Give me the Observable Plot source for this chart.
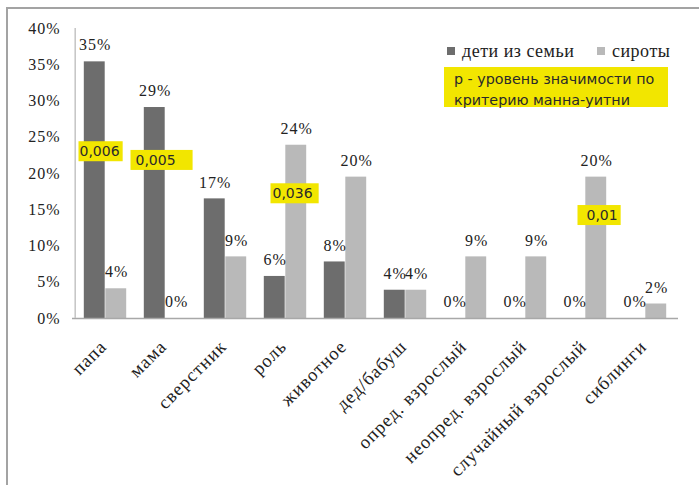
<!DOCTYPE html>
<html>
<head>
<meta charset="utf-8">
<script src="https://cdn.jsdelivr.net/npm/d3@7"></script>
<script src="https://cdn.jsdelivr.net/npm/@observablehq/plot@0.6"></script>
<style>
  body { margin: 0; background: #fff; }
  #wrap { position: relative; width: 699px; height: 485px; overflow: hidden; background: #fff; }
  #frame { position: absolute; left: 6px; top: 7px; width: 900px; height: 700px;
           border-top: 2px solid #a3a3a3; border-left: 2px solid #a3a3a3; pointer-events: none; }
  #chart text { letter-spacing: 1px; }
  .leg { position: absolute; font-family: "Liberation Serif", "Times New Roman", serif; font-size: 18px; letter-spacing: 0.5px; line-height: 20px; color: #222; white-space: nowrap; }
  .sw { position: absolute; width: 8px; height: 8px; }
  #note { position: absolute; left: 444px; top: 67px; width: 214px; height: 38px; padding-left: 10px; padding-top: 2px;
          background: #f2e600; font-family: "DejaVu Sans", sans-serif; font-size: 14.3px; letter-spacing: 0px; line-height: 21px; color: #2a2a2a; white-space: nowrap; }
</style>
</head>
<body>
<div id="wrap">
  <div id="chart"></div>
  <div id="frame"></div>
</div>
<script>
// ---- data ----
const categories = ["папа", "мама", "сверстник", "роль", "животное", "дед/бабуш",
  "опред. взрослый", "неопред. взрослый", "случайный взрослый", "сиблинги"];
const series = ["дети из семьи", "сироты"];
const familyValues = [35.4, 29.1, 16.5, 5.8, 7.8, 3.9, 0, 0, 0, 0];
const orphanValues = [4.1, 0, 8.5, 23.9, 19.5, 3.9, 8.5, 8.5, 19.5, 2.0];
const yTicks = [0, 5, 10, 15, 20, 25, 30, 35, 40];
const pCategories = ["папа", "мама", "роль", "случайный взрослый"];
const pLabels = ["0,006", "0,005", "0,036", "0,01"];
const pAnchors = [23.0, 21.8, 17.2, 14.2];
const noteLines = ["p - уровень значимости по", "критерию манна-уитни"];

// ---- layout / style ----
const colors = ["#6d6d6d", "#b9b9b9"];
const W = 699, H = 485;
const mL = 72, mR = 21, mT = 28, mB = 167;
const bw = (W - mL - mR) / categories.length;
const barW = 21.5;
const pDx = [-26, -30, -13, 1];
const pPad = [[1, 3], [5, 17], [2, 6], [9, 3]];
const serif = "'Liberation Serif', 'Times New Roman', serif";

const rows = [];
categories.forEach((c, i) => {
  rows.push({cat: c, s: series[0], v: familyValues[i]});
  rows.push({cat: c, s: series[1], v: orphanValues[i]});
});
const fam = rows.filter(d => d.s === series[0]);
const orp = rows.filter(d => d.s === series[1]);

const pMarks = pCategories.map((c, i) => Plot.text([{cat: c, y: pAnchors[i], t: pLabels[i]}], {
  x: "cat", y: "y", text: "t", dx: pDx[i], textAnchor: "start",
  fontFamily: "DejaVu Sans", fontSize: 14, fill: "#2a2a2a"
}));

const chart = Plot.plot({
  width: W, height: H,
  marginLeft: mL, marginRight: mR, marginTop: mT, marginBottom: mB,
  x: {domain: categories, padding: 0},
  y: {domain: [0, 40]},
  marks: [
    Plot.barY(fam, {x: "cat", y: "v", fill: colors[0], insetLeft: bw / 2 - barW, insetRight: bw / 2}),
    Plot.barY(orp, {x: "cat", y: "v", fill: colors[1], insetLeft: bw / 2, insetRight: bw / 2 - barW}),
    Plot.ruleY([0], {stroke: "#a8a8a8", strokeWidth: 1.5}),
    Plot.ruleX([categories[0]], {y1: 0, y2: 40, dx: -bw / 2, stroke: "#c4c4c4", strokeWidth: 1.5}),
    Plot.text(fam, {x: "cat", y: "v", text: d => Math.round(d.v) + "%", dx: -barW / 2 + 0.5, dy: -16.5,
      fontFamily: serif, fontSize: 16, fill: "#222"}),
    Plot.text(orp, {x: "cat", y: "v", text: d => Math.round(d.v) + "%", dx: barW / 2 + 0.5, dy: -16.5,
      fontFamily: serif, fontSize: 16, fill: "#222"}),
    ...pMarks,
    Plot.axisY({ticks: yTicks, tickFormat: d => d + "%", tickSize: 0, tickPadding: 12,
      fontFamily: serif, fontSize: 16, fill: "#222", label: null}),
    Plot.axisX({tickRotate: -45, tickSize: 0, tickPadding: 25, dx: -2, fontFamily: serif, fontSize: 18.5,
      fill: "#222", label: null})
  ]
});
chart.setAttribute("font-family", serif);
document.getElementById("chart").appendChild(chart);

// yellow boxes behind p-values
chart.querySelectorAll("text").forEach(t => {
  const i = pLabels.indexOf(t.textContent);
  if (i < 0) return;
  t.style.letterSpacing = "0px";
  const b = t.getBBox();
  const r = document.createElementNS("http://www.w3.org/2000/svg", "rect");
  r.setAttribute("x", b.x - pPad[i][0]);
  r.setAttribute("y", b.y - 2);
  r.setAttribute("width", b.width + pPad[i][0] + pPad[i][1]);
  r.setAttribute("height", b.height + 4);
  r.setAttribute("fill", "#f2e600");
  const tr = t.getAttribute("transform");
  if (tr) r.setAttribute("transform", tr);
  t.parentNode.insertBefore(r, t);
});

// legend
const wrap = document.getElementById("wrap");
const legPos = [[447, 462], [597, 612]];
series.forEach((s, i) => {
  const sw = document.createElement("div");
  sw.className = "sw";
  sw.style.left = legPos[i][0] + "px";
  sw.style.top = "47px";
  sw.style.background = colors[i];
  wrap.appendChild(sw);
  const lab = document.createElement("div");
  lab.className = "leg";
  lab.style.left = legPos[i][1] + "px";
  lab.style.top = "41px";
  lab.textContent = s;
  wrap.appendChild(lab);
});
const note = document.createElement("div");
note.id = "note";
note.innerHTML = noteLines.join("<br>");
wrap.appendChild(note);
</script>
</body>
</html>
